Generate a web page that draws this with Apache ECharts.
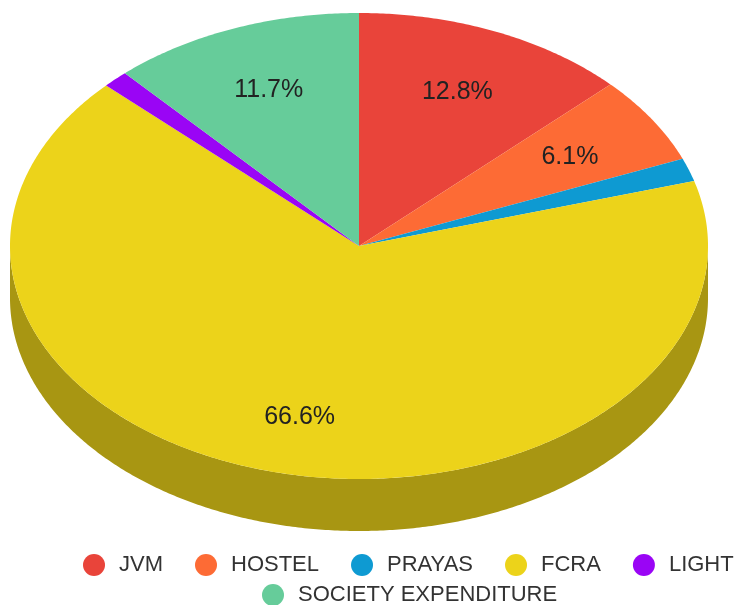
<!DOCTYPE html>
<html><head><meta charset="utf-8">
<script src="https://cdn.jsdelivr.net/npm/echarts@6/dist/echarts.min.js"></script>
<style>html,body{margin:0;padding:0;background:#fff}#c{width:740px;height:605px}</style>
</head><body><div id="c"></div>
<script>
// ---- data ----
const categories = ['JVM', 'HOSTEL', 'PRAYAS', 'FCRA', 'LIGHT', 'SOCIETY EXPENDITURE'];
const values = [12.8, 6.1, 1.6, 66.6, 1.2, 11.7];
const colors = ['#e9443a', '#fd6b35', '#0e9ad2', '#ecd31a', '#9a05f5', '#66cc9a'];
const legendRow1 = categories.slice(0, 5);
const legendRow2 = categories.slice(5);

// ---- layout / style ----
const FONT = '"Liberation Sans", Arial, sans-serif';
const geo = { cx: 359, cy: 246, rx: 349, ry: 233, depth: 52, labelR: 0.72, minLabel: 3, sideShade: 0.71 };
const total = values.reduce((a, b) => a + b, 0);
const starts = [];
values.reduce((acc, v) => { starts.push(acc); return acc + v; }, 0);

function pt(theta, f, dy) {
  return [geo.cx + geo.rx * f * Math.sin(theta), geo.cy - geo.ry * f * Math.cos(theta) + (dy || 0)];
}
function arcPts(a1, a2, dy) {
  const pts = [];
  const n = Math.max(2, Math.ceil((a2 - a1) / (Math.PI / 360)));
  for (let i = 0; i <= n; i++) pts.push(pt(a1 + (a2 - a1) * i / n, 1, dy));
  return pts;
}
function darken(hex, k) {
  const n = parseInt(hex.slice(1), 16);
  const r = Math.round(((n >> 16) & 255) * k), g = Math.round(((n >> 8) & 255) * k), b = Math.round((n & 255) * k);
  return 'rgb(' + r + ',' + g + ',' + b + ')';
}
function angles(i, v) {
  return [starts[i] / total * 2 * Math.PI, (starts[i] + v) / total * 2 * Math.PI];
}

function renderSide(params, api) {
  const i = params.dataIndex;
  const [a1, a2] = angles(i, api.value(0));
  const lo = Math.max(a1, Math.PI / 2), hi = Math.min(a2, 3 * Math.PI / 2);
  if (hi <= lo) return null;
  const top = arcPts(lo, hi, 0);
  const bot = arcPts(lo, hi, geo.depth).reverse();
  return { type: 'polygon', shape: { points: top.concat(bot) }, style: { fill: darken(colors[i], geo.sideShade) } };
}

function renderTop(params, api) {
  const i = params.dataIndex;
  const v = api.value(0);
  const [a1, a2] = angles(i, v);
  const pts = [[geo.cx, geo.cy]].concat(arcPts(a1, a2, 0));
  const children = [{ type: 'polygon', shape: { points: pts }, style: { fill: colors[i] } }];
  const pct = v / total * 100;
  if (pct >= geo.minLabel) {
    const mid = (a1 + a2) / 2;
    const p = pt(mid, geo.labelR, geo.depth * 0.16 * (1 - Math.cos(mid)) / 2);
    children.push({
      type: 'text', z2: 10,
      style: { text: pct.toFixed(1) + '%', x: p[0], y: p[1], align: 'center', verticalAlign: 'middle',
               fontSize: 25, fontFamily: FONT, fill: '#222' }
    });
  }
  return { type: 'group', children: children };
}

const itemData = categories.map((c, i) => ({ name: c, value: values[i] }));

const legendBase = {
  orient: 'horizontal', icon: 'circle', itemWidth: 22, itemHeight: 22, itemGap: 32, padding: 0,
  textStyle: { fontSize: 22, fontFamily: FONT, color: '#333', padding: [0, 0, 0, 9] }, selectedMode: false
};

const option = {
  animation: false,
  color: colors,
  legend: [
    Object.assign({}, legendBase, { data: legendRow1, left: 83, top: 554 }),
    Object.assign({}, legendBase, { data: legendRow2, left: 262, top: 584 })
  ],
  series: [
    { type: 'pie', name: 'legend', radius: [0, 0], center: [geo.cx, geo.cy], silent: true,
      label: { show: false }, labelLine: { show: false }, data: itemData, z: 0 },
    { type: 'custom', name: 'side', coordinateSystem: 'none', renderItem: renderSide, data: itemData, z: 1, silent: true },
    { type: 'custom', name: 'top', coordinateSystem: 'none', renderItem: renderTop, data: itemData, z: 2, silent: true }
  ]
};
const chart = echarts.init(document.getElementById('c'), null, { renderer: 'canvas' });
chart.setOption(option);
</script>
</body></html>
